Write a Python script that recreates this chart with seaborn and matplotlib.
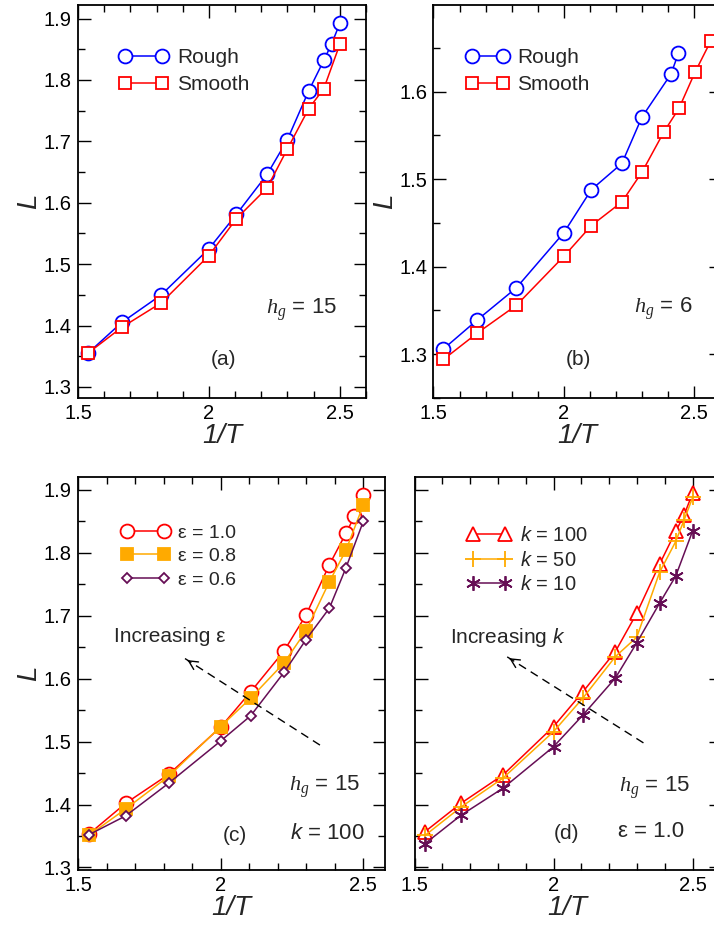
import matplotlib
matplotlib.use("Agg")
import matplotlib.pyplot as plt
import seaborn as sns
from matplotlib.ticker import MultipleLocator, FormatStrFormatter, FuncFormatter

# ---------------- data (x = 1/T) ----------------
inv_T = [1.538, 1.667, 1.818, 2.0, 2.105, 2.222, 2.299, 2.381, 2.439, 2.469, 2.5]
inv_T_10 = [1.538, 1.667, 1.818, 2.0, 2.105, 2.222, 2.299, 2.381, 2.439, 2.5]

# (a) h_g = 15
a_rough = [1.355, 1.405, 1.450, 1.525, 1.581, 1.646, 1.702, 1.782, 1.832, 1.859, 1.892]
a_smooth = [1.355, 1.397, 1.437, 1.514, 1.574, 1.624, 1.687, 1.753, 1.786, 1.858]

# (b) h_g = 6
b_rough_x = [1.538, 1.667, 1.818, 2.0, 2.105, 2.222, 2.299, 2.410, 2.439]
b_rough = [1.306, 1.339, 1.376, 1.439, 1.488, 1.518, 1.571, 1.620, 1.644]
b_smooth_x = [1.538, 1.667, 1.818, 2.0, 2.105, 2.222, 2.299, 2.383, 2.441, 2.502, 2.563]
b_smooth = [1.294, 1.324, 1.356, 1.412, 1.447, 1.474, 1.508, 1.554, 1.581, 1.622, 1.658]

# (c) h_g = 15, k = 100
c_eps10 = [1.353, 1.402, 1.448, 1.523, 1.579, 1.644, 1.701, 1.781, 1.831, 1.858, 1.892]
c_eps08 = [1.351, 1.393, 1.445, 1.524, 1.569, 1.625, 1.676, 1.754, 1.804, 1.876]
c_eps06 = [1.352, 1.382, 1.434, 1.501, 1.541, 1.610, 1.662, 1.712, 1.776, 1.850]

# (d) h_g = 15, eps = 1.0
d_k100 = [1.357, 1.402, 1.447, 1.524, 1.579, 1.643, 1.704, 1.782, 1.834, 1.860, 1.895]
d_k50 = [1.351, 1.396, 1.442, 1.516, 1.569, 1.635, 1.666, 1.769, 1.818, 1.852, 1.888]
d_k10 = [1.338, 1.383, 1.426, 1.492, 1.542, 1.601, 1.657, 1.720, 1.763, 1.835]

x_ticks_major = 0.5
x_ticks_minor = 0.1
y_ticks_major = 0.1
y_ticks_minor = 0.05

BLUE = "#0000FF"
RED = "#FF0000"
ORANGE = "#FFAA00"
PURPLE = "#660E55"

# ---------------- style ----------------
sns.set_theme(style="ticks")
plt.rcParams["font.family"] = ["Liberation Sans", "DejaVu Sans"]
plt.rcParams["mathtext.fontset"] = "custom"
plt.rcParams["mathtext.rm"] = "Liberation Sans"
plt.rcParams["mathtext.it"] = "Liberation Sans:italic"
plt.rcParams["mathtext.cal"] = "Liberation Serif:italic"
plt.rcParams["axes.edgecolor"] = "black"
plt.rcParams["axes.linewidth"] = 1.3

W, H = 714, 925
fig = plt.figure(figsize=(W / 100, H / 100), dpi=100)


def add_axes_px(left, right, top, bottom):
    return fig.add_axes([left / W, (H - bottom) / H, (right - left) / W, (bottom - top) / H])


ax_a = add_axes_px(78, 366, 5, 398)
ax_b = add_axes_px(433.5, 720.5, 5, 398)
ax_c = add_axes_px(78, 385, 477.3, 870)
ax_d = add_axes_px(414.5, 720.5, 477.3, 870)

TICK_FS = 14.5
LABEL_FS = 20
TEXT_FS = 15
HG_FS = 16


def style_axes(ax, xlim, ylim, ylabels=True):
    ax.set_xlim(*xlim)
    ax.set_ylim(*ylim)
    ax.xaxis.set_major_locator(MultipleLocator(x_ticks_major))
    ax.xaxis.set_minor_locator(MultipleLocator(x_ticks_minor))
    ax.yaxis.set_major_locator(MultipleLocator(y_ticks_major))
    ax.yaxis.set_minor_locator(MultipleLocator(y_ticks_minor))
    ax.xaxis.set_major_formatter(FuncFormatter(lambda v, p: "%g" % round(v, 2)))
    ax.yaxis.set_major_formatter(FormatStrFormatter("%.1f"))
    ax.tick_params(which="both", direction="in", top=True, right=True,
                   colors="black", labelcolor="black")
    ax.tick_params(which="major", length=9, width=1.0, labelsize=TICK_FS, pad=4.5)
    ax.tick_params(which="minor", length=5, width=1.0)
    for s in ax.spines.values():
        s.set_visible(True)
        s.set_linewidth(1.3)
        s.set_color("black")
    ax.set_xlabel("1/T", fontsize=LABEL_FS, fontstyle="italic", labelpad=0)
    if ylabels:
        ax.set_ylabel("L", fontsize=LABEL_FS, fontstyle="italic", labelpad=1)
    else:
        ax.set_ylabel("")
        ax.tick_params(axis="y", labelleft=False)
    ax.grid(False)


def draw(ax, x, y, color, marker, ms, mfc, label, mew=1.3, lw=1.1):
    sns.lineplot(x=x, y=y, ax=ax, color=color, marker=marker, markersize=ms,
                 markerfacecolor=mfc, markeredgecolor=color, markeredgewidth=mew,
                 linewidth=lw, label=label, estimator=None, sort=False)


def legend(ax, fx, fy, fs, hl, htp, ls):
    ax.legend(loc="upper left", bbox_to_anchor=(fx, fy), frameon=False,
              borderpad=0, borderaxespad=0, numpoints=2, fontsize=fs,
              handlelength=hl, handletextpad=htp, labelspacing=ls)


def arrow(ax, tail, head):
    ax.plot([tail[0], head[0]], [tail[1], head[1]], color="black", lw=1.0,
            linestyle=(0, (6, 4)))
    back = (head[0] + 0.04 * (tail[0] - head[0]), head[1] + 0.04 * (tail[1] - head[1]))
    ax.annotate("", xy=head, xytext=back,
                arrowprops=dict(arrowstyle="->", lw=1.0, color="black", mutation_scale=16))


HG = r"$\mathcal{h}_{\mathcal{g}}$"

# ---------------- (a) ----------------
draw(ax_a, inv_T, a_rough, BLUE, "o", 10, "white", "Rough")
draw(ax_a, inv_T_10, a_smooth, RED, "s", 9, "white", "Smooth")
style_axes(ax_a, (1.5, 2.6), (1.282, 1.922))
legend(ax_a, 0.142, 0.8895, TEXT_FS, 2.38, 0.41, 0.37)
ax_a.text(2.353, 1.418, HG + " = 15", fontsize=HG_FS, ha="center", va="baseline")
ax_a.text(2.055, 1.335, "(a)", fontsize=TEXT_FS, ha="center", va="baseline")

# ---------------- (b) ----------------
draw(ax_b, b_rough_x, b_rough, BLUE, "o", 10, "white", "Rough")
draw(ax_b, b_smooth_x, b_smooth, RED, "s", 9, "white", "Smooth")
style_axes(ax_b, (1.5, 2.6), (1.25, 1.699))
legend(ax_b, 0.1136, 0.8895, TEXT_FS, 2.06, 0.38, 0.37)
ax_b.text(2.379, 1.3465, HG + " = 6", fontsize=HG_FS, ha="center", va="baseline")
ax_b.text(2.055, 1.2873, "(b)", fontsize=TEXT_FS, ha="center", va="baseline")

# ---------------- (c) ----------------
draw(ax_c, inv_T, c_eps10, RED, "o", 10, "white", "ε = 1.0")
draw(ax_c, inv_T_10, c_eps08, ORANGE, "s", 9, ORANGE, "ε = 0.8")
draw(ax_c, inv_T_10, c_eps06, PURPLE, "D", 5.5, "white", "ε = 0.6")
style_axes(ax_c, (1.5, 2.576), (1.296, 1.92))
legend(ax_c, 0.140, 0.881, 14, 2.5, 0.415, 0.31)
arrow(ax_c, (2.348, 1.4945), (1.875, 1.632))
ax_c.text(1.627, 1.659, "Increasing ε", fontsize=15, ha="left", va="baseline")
ax_c.text(2.363, 1.4202, HG + " = 15", fontsize=HG_FS, ha="center", va="baseline")
ax_c.text(2.373, 1.346, r"$k$ = 100", fontsize=HG_FS, ha="center", va="baseline")
ax_c.text(2.050, 1.342, "(c)", fontsize=TEXT_FS, ha="center", va="baseline")

# ---------------- (d) ----------------
draw(ax_d, inv_T, d_k100, RED, "^", 10, "white", r"$k$ = 100")
draw(ax_d, inv_T, d_k50, ORANGE, "+", 11, ORANGE, r"$k$ = 50")
draw(ax_d, inv_T_10, d_k10, PURPLE, (6, 2, 0), 10.5, PURPLE, r"$k$ = 10")
style_axes(ax_d, (1.5, 2.6), (1.296, 1.92), ylabels=False)
legend(ax_d, 0.170, 0.876, 14.5, 2.2, 0.47, 0.28)
arrow(ax_d, (2.323, 1.498), (1.832, 1.635))
ax_d.text(1.628, 1.657, r"Increasing $k$", fontsize=15, ha="left", va="baseline")
ax_d.text(2.361, 1.42, HG + " = 15", fontsize=HG_FS, ha="center", va="baseline")
ax_d.text(2.35, 1.349, "ε = 1.0", fontsize=HG_FS, ha="center", va="baseline")
ax_d.text(2.0475, 1.345, "(d)", fontsize=TEXT_FS, ha="center", va="baseline")

fig.savefig("out.png", dpi=100)
